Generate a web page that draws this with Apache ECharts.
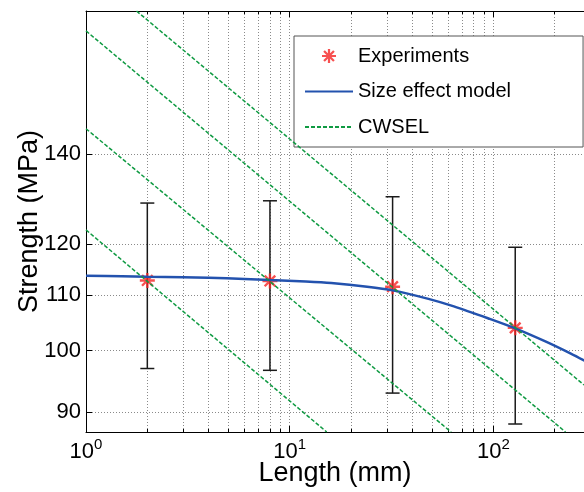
<!DOCTYPE html>
<html><head><meta charset="utf-8">
<script src="https://cdn.jsdelivr.net/npm/echarts@6/dist/echarts.min.js"></script>
<style>html,body{margin:0;padding:0;background:#fff}#c{width:584px;height:492px}</style>
</head><body><div id="c"></div>
<script>
// ---- data ----
const lengths   = [2, 8, 32, 128];
const strengths = [112.8, 112.7, 111.6, 104.0];
const errLow    = [97.0, 96.7, 93.0, 88.2];
const errHigh   = [128.8, 129.3, 130.2, 119.4];

const modelX = [1, 1.5, 2, 3, 4, 6, 8, 12, 16, 24, 32, 48, 64, 96, 128, 180, 240, 280];
const modelY = [113.7, 113.6, 113.5, 113.4, 113.3, 113.1, 112.9, 112.6, 112.3, 111.6, 110.9, 109.3, 107.9, 105.6, 103.9, 101.6, 99.5, 98.3];

const cwselX = [[1, 15.2], [1, 62], [1, 226], [1.77, 278.5]];
const cwselY = [[123.0, 87.0], [146.3, 87.0], [173.0, 87.0], [179.0, 94.3]];

const xMajorTicks = [1, 10, 100];
const xGridTicks  = [1,2,3,4,5,6,7,8,9,10,20,30,40,50,60,70,80,90,100,200];
const yTicks      = [90, 100, 110, 120, 140];

// ---- chart ----
const FONT = "'Liberation Sans', Arial, sans-serif";
const X_MIN = 1, X_MAX = 278.5, Y_MIN = 87, Y_MAX = 179;
const gridLine = { show: true, lineStyle: { color: '#8a8a8a', type: [1, 2], width: 1 } };

const asterisk = 'path://M-1,-0.16L1,-0.16L1,0.16L-1,0.16Z' +
  'M-0.16,-1L0.16,-1L0.16,1L-0.16,1Z' +
  'M-0.594,-0.82L0.82,0.594L0.594,0.82L-0.82,-0.594Z' +
  'M0.594,-0.82L0.82,-0.594L-0.594,0.82L-0.82,0.594Z';

function baseX(extra) {
  return Object.assign({
    type: 'log', logBase: 10, min: X_MIN, max: X_MAX, gridIndex: 0,
    axisLine: { show: false, onZero: false, lineStyle: { color: '#000', width: 1 } },
    axisTick: { show: false },
    axisLabel: { show: false },
    splitLine: { show: false },
    minorTick: { show: false }, minorSplitLine: { show: false }
  }, extra);
}

const xAxes = [
  baseX({ position: 'bottom',
    axisLine: { show: true, onZero: false, lineStyle: { color: '#000', width: 1 } },
    axisTick: { show: true, inside: true, length: 3, customValues: xGridTicks, lineStyle: { color: '#000' } },
    splitLine: gridLine }),
  baseX({ position: 'bottom',
    axisTick: { show: true, inside: true, length: 6, customValues: xMajorTicks, lineStyle: { color: '#000' } },
    axisLabel: { show: true, customValues: xMajorTicks, margin: 5, color: '#000',
      formatter: v => '{b|10}{s|' + Math.round(Math.log10(v)) + '}',
      rich: {
        b: { fontSize: 22, fontFamily: FONT, color: '#000', lineHeight: 22, padding: [8, 0, 0, 0] },
        s: { fontSize: 15, fontFamily: FONT, color: '#000', lineHeight: 15, verticalAlign: 'top' }
      } },
    name: 'Length (mm)', nameLocation: 'middle', nameGap: 28, nameMoveOverlap: false,
    nameTextStyle: { fontSize: 27, fontFamily: FONT, color: '#000', lineHeight: 28 } }),
  baseX({ position: 'top',
    axisLine: { show: true, onZero: false, lineStyle: { color: '#000', width: 1 } },
    axisTick: { show: true, inside: true, length: 3, customValues: xGridTicks, lineStyle: { color: '#000' } } }),
  baseX({ position: 'top',
    axisTick: { show: true, inside: true, length: 6, customValues: xMajorTicks, lineStyle: { color: '#000' } } })
];

const yAxis = {
  type: 'log', logBase: 10, min: Y_MIN, max: Y_MAX,
  axisLine: { show: true, onZero: false, lineStyle: { color: '#000', width: 1 } },
  axisTick: { show: true, inside: true, length: 6, customValues: yTicks, lineStyle: { color: '#000' } },
  axisLabel: { show: true, customValues: yTicks, fontSize: 22, fontFamily: FONT, color: '#000', margin: 5 },
  splitLine: gridLine,
  minorTick: { show: false }, minorSplitLine: { show: false },
  name: 'Strength (MPa)', nameLocation: 'middle', nameGap: 42, nameMoveOverlap: false,
  nameTextStyle: { fontSize: 27, fontFamily: FONT, color: '#000', lineHeight: 28 }
};

const series = [
  {
    type: 'custom', name: 'errorbars', silent: true, z: 2,
    data: lengths.map((x, i) => [x, errLow[i], errHigh[i]]),
    encode: { x: 0, y: [1, 2] },
    renderItem: function (params, api) {
      const x = api.value(0);
      const lo = api.coord([x, api.value(1)]);
      const hi = api.coord([x, api.value(2)]);
      const w = 7, st = { stroke: '#1a1a1a', lineWidth: 1.5 };
      return { type: 'group', children: [
        { type: 'line', shape: { x1: lo[0], y1: lo[1], x2: hi[0], y2: hi[1] }, style: st },
        { type: 'line', shape: { x1: lo[0] - w, y1: lo[1], x2: lo[0] + w, y2: lo[1] }, style: st },
        { type: 'line', shape: { x1: hi[0] - w, y1: hi[1], x2: hi[0] + w, y2: hi[1] }, style: st }
      ] };
    }
  },
  {
    type: 'scatter', name: 'Experiments', z: 3,
    symbol: asterisk, symbolSize: 15,
    itemStyle: { color: '#f52424' },
    data: lengths.map((x, i) => [x, strengths[i]])
  },
  {
    type: 'line', name: 'Size effect model', z: 4,
    symbol: 'none', showSymbol: false, smooth: 0.3,
    lineStyle: { color: '#2352ae', width: 2.5 },
    itemStyle: { color: '#2352ae' },
    data: modelX.map((x, i) => [x, modelY[i]])
  }
].concat(cwselX.map((xs, k) => ({
  type: 'line', name: 'CWSEL', z: 5,
  symbol: 'none', showSymbol: false,
  lineStyle: { color: '#0f9a42', width: 1.5, type: [4, 2] },
  itemStyle: { color: '#0f9a42' },
  data: xs.map((x, i) => [x, cwselY[k][i]])
})));

const chart = echarts.init(document.getElementById('c'), null, { renderer: 'canvas' });
chart.setOption({
  animation: false,
  backgroundColor: '#fff',
  grid: { left: 86, right: 0, top: 11, bottom: 60, containLabel: false, outerBoundsMode: 'none' },
  xAxis: xAxes,
  yAxis: yAxis,
  legend: {
    data: [
      { name: 'Experiments' },
      { name: 'Size effect model', itemStyle: { opacity: 0 } },
      { name: 'CWSEL', itemStyle: { opacity: 0 } }
    ],
    orient: 'vertical', left: 294, top: 36,
    padding: [10, 72, 10, 10],
    itemWidth: 48, itemHeight: 14, itemGap: 15.5,
    backgroundColor: '#fff', borderColor: '#555', borderWidth: 1, borderRadius: 0,
    textStyle: { fontSize: 20, fontFamily: FONT, color: '#000', lineHeight: 14 },
    selectedMode: false
  },
  series: series
});
</script>
</body></html>
